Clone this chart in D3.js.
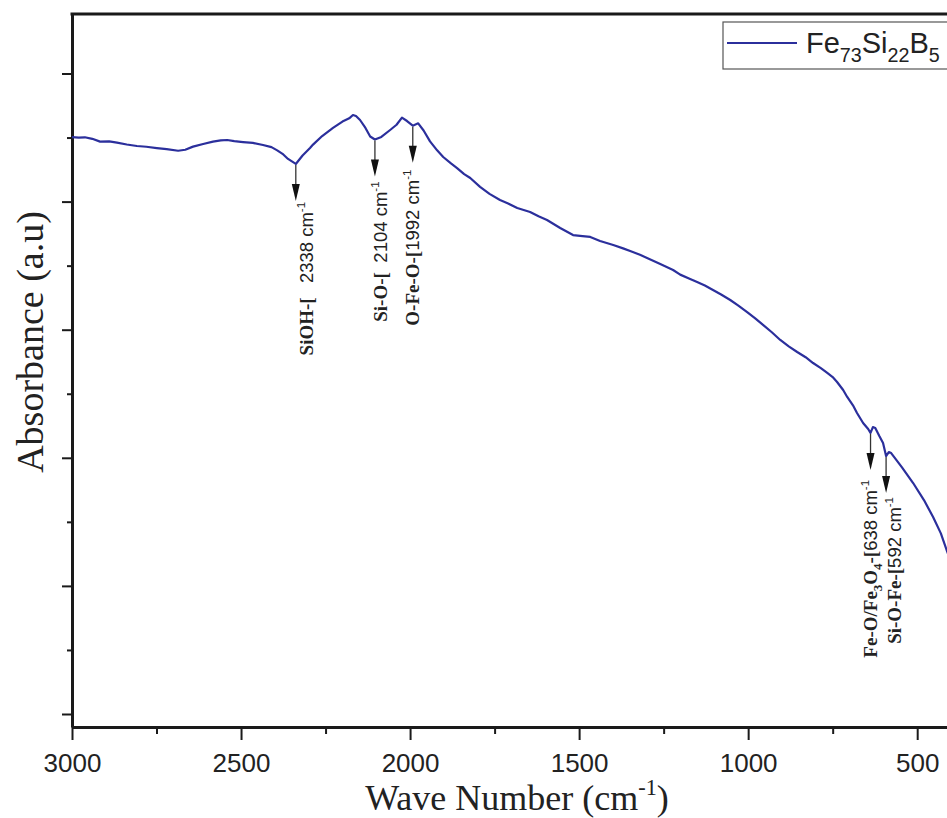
<!DOCTYPE html>
<html><head><meta charset="utf-8">
<script src="https://cdn.jsdelivr.net/npm/d3@7/dist/d3.min.js"></script>
<style>body{margin:0;background:#fff;overflow:hidden}</style>
</head><body>
<svg id="chart" width="947" height="818"></svg>
<script>
// ---------- data ----------
const waveNumbers = [3000, 2980, 2962, 2940, 2917, 2890, 2867, 2838, 2808, 2780, 2749, 2720, 2686, 2665, 2642, 2612, 2583, 2560, 2541, 2520, 2494, 2465, 2435, 2410, 2393, 2375, 2361, 2338,
  2318, 2296, 2287, 2260, 2228, 2200, 2180, 2169, 2160, 2148, 2132, 2118, 2104, 2085, 2059, 2040, 2024, 2009, 1992, 1976, 1960, 1941, 1920, 1902, 1880, 1861, 1840, 1822, 1793, 1765, 1734, 1710, 1683,
  1645, 1620, 1595, 1556, 1518, 1490, 1467, 1438, 1399, 1370, 1349, 1320, 1299, 1260, 1222, 1201, 1175, 1151, 1128, 1104, 1080, 1053, 1030, 1003, 980, 956, 930, 905, 880, 855, 830, 808,
  785, 766, 750, 737, 719, 707, 690, 678, 660, 645, 638, 631, 624, 612, 601, 592, 584, 577, 545, 512, 480, 453, 430, 411, 400];
const absorbance = [4.504, 4.500, 4.502, 4.490, 4.468, 4.470, 4.460, 4.446, 4.434, 4.428, 4.418, 4.410, 4.397, 4.405, 4.429, 4.450, 4.468, 4.478, 4.481, 4.472, 4.465, 4.458, 4.442, 4.425, 4.400, 4.368, 4.333, 4.294,
  4.360, 4.418, 4.445, 4.512, 4.575, 4.625, 4.650, 4.676, 4.668, 4.637, 4.575, 4.508, 4.485, 4.505, 4.559, 4.600, 4.655, 4.629, 4.593, 4.611, 4.555, 4.470, 4.400, 4.348, 4.300, 4.262, 4.215, 4.184, 4.115, 4.060, 4.012, 3.985, 3.950,
  3.919, 3.885, 3.856, 3.794, 3.739, 3.731, 3.724, 3.693, 3.661, 3.635, 3.614, 3.585, 3.560, 3.513, 3.466, 3.430, 3.400, 3.372, 3.345, 3.310, 3.275, 3.232, 3.190, 3.138, 3.090, 3.037, 2.980, 2.920, 2.870, 2.826, 2.785, 2.740,
  2.700, 2.662, 2.630, 2.592, 2.529, 2.475, 2.410, 2.350, 2.272, 2.225, 2.194, 2.240, 2.233, 2.170, 2.116, 2.014, 2.045, 2.037, 1.925, 1.803, 1.670, 1.538, 1.410, 1.265, 1.187];
const xTickValues = [3000, 2500, 2000, 1500, 1000, 500];
const xMinorTickValues = [2750, 2250, 1750, 1250, 750];
const yMajorTickValues = [0, 1, 2, 3, 4, 5];
const yMinorTickValues = [0.5, 1.5, 2.5, 3.5, 4.5];
const peakWaveNumbers = [2338, 2104, 1992, 638, 592];
const peakGroups = ["SiOH-[   ", "Si-O-[  ", "O-Fe-O-[", "Fe-O/Fe_3O_4-[", "Si-O-Fe-["];
const peakTexts = ["2338 cm^-1", "2104 cm^-1", "1992 cm^-1", "638 cm^-1", "592 cm^-1"];
const seriesName = "Fe_73Si_22B_5";
const xTitleMain = "Wave Number (cm";
const xTitleSup = "^-1";
const xTitleEnd = ")";
const yTitle = "Absorbance (a.u)";

// ---------- layout / style ----------
const W = 947, H = 818;
const plot = {left: 72, right: 951, top: 14, bottom: 727};
const lineColor = "#2b2f9c";
const axisColor = "#1a1a1a";
const serif = "Liberation Serif, Times New Roman, serif";
const sans = "Liberation Sans, Arial, sans-serif";
const labelOffsets = [{dx: 17, gap: 1}, {dx: 12, gap: 5}, {dx: 6, gap: 7}, {dx: 6, gap: 10}, {dx: 15, gap: 4}];
const arrowLen = 37;

const svg = d3.select("#chart");
svg.append("rect").attr("width", W).attr("height", H).attr("fill", "#fff");

const x = d3.scaleLinear().domain([3000, 400]).range([plot.left, plot.right]);
const y = d3.scaleLinear().domain([-0.1015, 5.4645]).range([plot.bottom, plot.top]);

// rich text helper: "_" subscript, "^" superscript
function appendRich(textSel, str, opts, state) {
  const size = opts.size;
  const parts = str.split(/(_[0-9]+|\^-?[0-9]+)/).filter(s => s.length);
  parts.forEach(p => {
    let t = p, fs = size, shift = 0;
    if (p[0] === "_") { t = p.slice(1); fs = size * 0.68; shift = size * 0.3; }
    else if (p[0] === "^") { t = p.slice(1); fs = size * 0.62; shift = -size * 0.42; }
    textSel.append("tspan")
      .attr("font-family", opts.family)
      .attr("font-weight", opts.weight || "normal")
      .attr("font-size", fs)
      .attr("dy", shift - state.shift)
      .text(t);
    state.shift = shift;
  });
}

// ---------- axes ----------
const gx = svg.append("g").attr("transform", `translate(0,${plot.bottom})`);
gx.call(d3.axisBottom(x).tickValues(xTickValues).tickSize(13).tickSizeOuter(0).tickPadding(14).tickFormat(d3.format("d")));
gx.select(".domain").attr("stroke", axisColor).attr("stroke-width", 3);
gx.selectAll(".tick line").attr("stroke", axisColor).attr("stroke-width", 2);
gx.selectAll(".tick text").attr("font-family", sans).attr("font-size", 26).attr("fill", "#222");

const gxm = svg.append("g").attr("transform", `translate(0,${plot.bottom})`);
gxm.call(d3.axisBottom(x).tickValues(xMinorTickValues).tickSize(7).tickSizeOuter(0).tickFormat(""));
gxm.select(".domain").remove();
gxm.selectAll(".tick line").attr("stroke", axisColor).attr("stroke-width", 2);

const gy = svg.append("g").attr("transform", `translate(${plot.left},0)`);
gy.call(d3.axisLeft(y).tickValues(yMajorTickValues).tickSize(10).tickSizeOuter(0).tickFormat(""));
gy.select(".domain").attr("stroke", axisColor).attr("stroke-width", 3);
gy.selectAll(".tick line").attr("stroke", axisColor).attr("stroke-width", 2);

const gym = svg.append("g").attr("transform", `translate(${plot.left},0)`);
gym.call(d3.axisLeft(y).tickValues(yMinorTickValues).tickSize(5).tickSizeOuter(0).tickFormat(""));
gym.select(".domain").remove();
gym.selectAll(".tick line").attr("stroke", axisColor).attr("stroke-width", 2);

// top and right frame
svg.append("line").attr("x1", plot.left - 1.5).attr("x2", plot.right).attr("y1", plot.top).attr("y2", plot.top)
  .attr("stroke", axisColor).attr("stroke-width", 3);
svg.append("line").attr("x1", plot.right).attr("x2", plot.right).attr("y1", plot.top).attr("y2", plot.bottom)
  .attr("stroke", axisColor).attr("stroke-width", 3);

// ---------- curve ----------
const data = waveNumbers.map((w, i) => ({w, a: absorbance[i]}));
svg.append("path").datum(data)
  .attr("fill", "none").attr("stroke", lineColor).attr("stroke-width", 2.2)
  .attr("stroke-linejoin", "round")
  .attr("d", d3.line().x(d => x(d.w)).y(d => y(d.a)));

// ---------- annotations ----------
peakWaveNumbers.forEach((wn, i) => {
  const idx = waveNumbers.indexOf(wn);
  const px = x(wn), py = y(absorbance[idx]);
  const tip = py + arrowLen;
  svg.append("line").attr("x1", px).attr("x2", px).attr("y1", py + 1).attr("y2", tip - 12)
    .attr("stroke", "#333").attr("stroke-width", 1.3);
  svg.append("path").attr("d", `M${px - 4},${tip - 17}L${px + 4},${tip - 17}L${px},${tip}Z`).attr("fill", "#111");
  const off = labelOffsets[i];
  const t = svg.append("text")
    .attr("transform", `translate(${px + off.dx},${tip + off.gap}) rotate(-90)`)
    .attr("text-anchor", "end").attr("fill", "#222").style("white-space", "pre");
  const st = {shift: 0};
  appendRich(t, peakGroups[i], {size: 19, family: serif, weight: "bold"}, st);
  appendRich(t, peakTexts[i], {size: 18.5, family: sans}, st);
});

// ---------- titles ----------
const xt = svg.append("text").attr("x", 517).attr("y", 810).attr("text-anchor", "middle").attr("fill", "#222");
{
  const st = {shift: 0};
  appendRich(xt, xTitleMain, {size: 36, family: serif}, st);
  appendRich(xt, xTitleSup, {size: 36, family: serif}, st);
  xt.append("tspan").attr("font-family", serif).attr("font-size", 36).attr("dy", -st.shift).text(xTitleEnd);
}

svg.append("text").attr("transform", "translate(43,342) rotate(-90)")
  .attr("text-anchor", "middle").attr("fill", "#222")
  .attr("font-family", serif).attr("font-size", 38)
  .text(yTitle);

// ---------- legend ----------
const lg = svg.append("g");
lg.append("rect").attr("x", 723).attr("y", 22).attr("width", 260).attr("height", 47)
  .attr("fill", "#fff").attr("stroke", "#555").attr("stroke-width", 1.2);
lg.append("line").attr("x1", 727).attr("x2", 797).attr("y1", 43).attr("y2", 43)
  .attr("stroke", lineColor).attr("stroke-width", 2);
const lt = lg.append("text").attr("x", 806).attr("y", 53).attr("fill", "#222");
appendRich(lt, seriesName, {size: 29, family: sans}, {shift: 0});
</script>
</body></html>
